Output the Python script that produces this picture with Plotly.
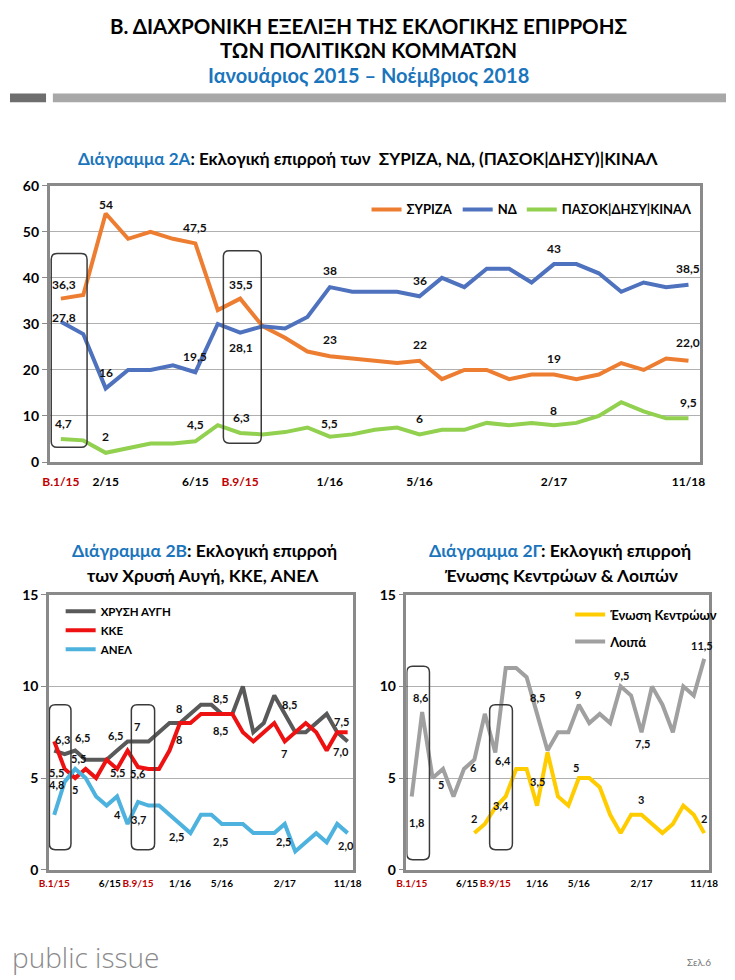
import plotly.graph_objects as go

W, H = 735, 980
FONT = "Lato, 'Noto Sans', sans-serif"
TITLE_BLUE = "#1B75BC"
TICK_RED = "#C00000"

# ---------------- data ----------------
N = 29
x_idx = list(range(N))

tick_pos_top = [0, 2, 6, 8, 12, 16, 22, 28]
tick_text_top = ["B.1/15", "2/15", "6/15", "B.9/15", "1/16", "5/16", "2/17", "11/18"]
tick_pos_bottom = [0, 5.3, 8, 12, 16, 22, 28]
tick_text_bottom = ["B.1/15", "6/15", "B.9/15", "1/16", "5/16", "2/17", "11/18"]
election_ticks = ["B.1/15", "B.9/15"]

syriza = [35.5, 36.3, 54, 48.5, 50, 48.5, 47.5, 33, 35.5, 29.5, 27, 24, 23, 22.5, 22,
          21.5, 22, 18, 20, 20, 18, 19, 19, 18, 19, 21.5, 20, 22.5, 22]
nd = [30.5, 27.8, 16, 20, 20, 21, 19.5, 30, 28.1, 29.5, 29, 31.5, 38, 37, 37,
      37, 36, 40, 38, 42, 42, 39, 43, 43, 41, 37, 39, 38, 38.5]
pasok = [5, 4.7, 2, 3, 4, 4, 4.5, 8, 6.3, 6, 6.5, 7.5, 5.5, 6, 7,
         7.5, 6, 7, 7, 8.5, 8, 8.5, 8, 8.5, 10, 13, 11, 9.5, 9.5]

xa = [6.5, 6.3, 6.5, 6, 6, 6, 6.5, 7, 7, 7, 7.5, 8, 8, 8.5, 9,
      9, 8.5, 8.5, 10, 7.5, 8, 9.5, 8.5, 7.5, 7.5, 8, 8.5, 7.5, 7]
kke = [7, 5.5, 5, 5.5, 5, 6, 5.5, 6.5, 5.6, 5.5, 5.5, 6.5, 8, 8, 8.5,
       8.5, 8.5, 8.5, 7.5, 7, 7.5, 8, 7, 7.5, 8, 7.5, 6.5, 7.5, 7.5]
anel = [3, 4.8, 5.5, 5, 4, 3.5, 4, 2.5, 3.7, 3.5, 3.5, 3, 2.5, 2, 3,
        3, 2.5, 2.5, 2.5, 2, 2, 2, 2.5, 1, 1.5, 2, 1.5, 2.5, 2]

ek = [1.8, None, None, None, None, None, 2, 2.5, 3.4, 4, 5.5, 5.5, 3.5, 6.4, 4,
      3.5, 5, 5, 4.5, 3, 2, 3, 3, 2.5, 2, 2.5, 3.5, 3, 2]
loipa = [4, 8.6, 5, 5.5, 4, 5.5, 6, 8.5, 6.4, 11, 11, 10.5, 8.5, 6.5, 7.5,
         7.5, 9, 8, 8.5, 8, 10, 9.5, 7.5, 10, 9, 7.5, 10, 9.5, 11.5]

# value labels: (series, index, text, dx px, dy px)
labels_top = [
    ("syriza", 0, "36,3", 3, 14), ("syriza", 2, "54", 0, 9), ("syriza", 6, "47,5", 0, 16),
    ("syriza", 8, "35,5", 1, 14), ("syriza", 12, "23", 0, 17), ("syriza", 16, "22", 0, 16),
    ("syriza", 22, "19", 0, 16), ("syriza", 28, "22,0", 0, 18),
    ("nd", 0, "27,8", 3, 4), ("nd", 2, "16", 0, 16), ("nd", 6, "19,5", 0, 16),
    ("nd", 8, "28,1", 1, -15), ("nd", 12, "38", 0, 17), ("nd", 16, "36", 0, 16),
    ("nd", 22, "43", 0, 16), ("nd", 28, "38,5", 0, 16),
    ("pasok", 0, "4,7", 3, 15), ("pasok", 2, "2", 0, 16), ("pasok", 6, "4,5", 0, 17),
    ("pasok", 8, "6,3", 1, 16), ("pasok", 12, "5,5", 0, 13), ("pasok", 16, "6", 0, 16),
    ("pasok", 22, "8", 0, 15), ("pasok", 28, "9,5", 0, 16),
]
labels_left = [
    ("xa", 1, "6,3", -2, 15), ("xa", 2, "6,5", 7, 13), ("kke", 1, "5,5", -8, -4),
    ("anel", 2, "5,5", 3, 10), ("anel", 1, "4,8", -8, -3), ("kke", 2, "5", 0, -11),
    ("xa", 6, "6,5", -2, 15), ("kke", 6, "5,5", 0, -4), ("anel", 6, "4", 0, -18),
    ("xa", 8, "7", -1, 15), ("kke", 8, "5,6", 0, -6), ("anel", 8, "3,7", 0, -18),
    ("xa", 12, "8", -1, 15), ("kke", 12, "8", -1, -16), ("anel", 12, "2,5", -3, -13),
    ("xa", 16, "8,5", -1, 15), ("kke", 16, "8,5", -1, -17), ("anel", 16, "2,5", -1, -18),
    ("xa", 22, "8,5", 5, 9), ("kke", 22, "7", -1, -12), ("anel", 22, "2,5", -1, -18),
    ("kke", 28, "7,5", -6, 11), ("xa", 28, "7,0", -7, -10), ("anel", 28, "2,0", -2, -12),
]
labels_right = [
    ("ek", 0, "1,8", 5, 14), ("loipa", 1, "8,6", -1, 15), ("loipa", 2, "5", 8, -6),
    ("loipa", 6, "6", -1, -8), ("ek", 6, "2", 0, 15), ("loipa", 8, "6,4", 8, -8),
    ("ek", 8, "3,4", 6, 2), ("loipa", 12, "8,5", 0, 16), ("ek", 12, "3,5", 0, 24),
    ("loipa", 16, "9", -1, 10), ("ek", 16, "5", -3, 11), ("loipa", 20, "9,5", 1, 11),
    ("loipa", 22, "7,5", 1, -11), ("ek", 22, "3", -1, 15), ("loipa", 28, "11,5", -2, 13),
    ("ek", 28, "2", 0, 15),
]

series = {"syriza": syriza, "nd": nd, "pasok": pasok, "xa": xa, "kke": kke,
          "anel": anel, "ek": ek, "loipa": loipa}

# ---------------- layout geometry (pixels) ----------------
def px_x(p):
    return p / W

def px_y(p):
    return 1 - p / H

top_box = dict(l=40.7, r=708, t=180, b=461)
bl_box = dict(l=40, r=352, t=596, b=876)
br_box = dict(l=407, r=718, t=596, b=876)

fig = go.Figure()

def add_line(y, name, color, xaxis, yaxis, legend, group=None):
    fig.add_trace(go.Scatter(
        x=x_idx, y=y, mode="lines", name="<b>%s</b>" % name,
        line=dict(color=color, width=4), xaxis=xaxis, yaxis=yaxis,
        legend=legend, legendgroup=group, connectgaps=False, hoverinfo="skip"))

add_line(syriza, "ΣΥΡΙΖΑ", "#ED7D31", "x", "y", "legend")
add_line(nd, "ΝΔ", "#4E72BE", "x", "y", "legend")
add_line(pasok, "ΠΑΣΟΚ|ΔΗΣΥ|ΚΙΝΑΛ", "#92D050", "x", "y", "legend")

add_line(xa, "ΧΡΥΣΗ ΑΥΓΗ", "#595959", "x2", "y2", "legend2")
add_line(kke, "ΚΚΕ", "#EE1111", "x2", "y2", "legend2")
add_line(anel, "ΑΝΕΛ", "#4DB2DE", "x2", "y2", "legend2")

add_line(ek, "Ένωση Κεντρώων", "#FFCC00", "x3", "y3", "legend3", "g1")
add_line(loipa, "Λοιπά", "#A0A0A0", "x3", "y3", "legend3", "g2")


def tick_text(labels):
    out = []
    for t in labels:
        if t in election_ticks:
            out.append("<span style='color:%s'>%s</span>" % (TICK_RED, t))
        else:
            out.append(t)
    return out


FRAME = "#8A8A8A"
GRID = "#B0B0B0"

def xaxis_cfg(box, pos, text, size, standoff):
    return dict(domain=[px_x(box["l"]), px_x(box["r"])], range=[-0.5, N - 0.5],
                tickmode="array", tickvals=pos, ticktext=text, tickangle=0,
                showgrid=False, zeroline=False, showline=True, mirror=True,
                linecolor=FRAME, linewidth=2.5, ticks="", ticklabelstandoff=standoff,
                tickfont=dict(family=FONT, size=size, color="#000", weight="bold"),
                fixedrange=True)

def yaxis_cfg(box, rng, dtick, anchor):
    return dict(domain=[px_y(box["b"]), px_y(box["t"])], range=rng, dtick=dtick,
                showgrid=True, gridcolor=GRID, gridwidth=1, zeroline=False,
                showline=True, mirror=True, linecolor=FRAME, linewidth=2.5,
                ticks="outside", ticklen=5, tickcolor=FRAME, anchor=anchor,
                tickfont=dict(family=FONT, size=14, color="#000", weight="bold"),
                fixedrange=True)

fig.update_layout(
    width=W, height=H, margin=dict(l=0, r=0, t=0, b=0),
    paper_bgcolor="white", plot_bgcolor="white",
    font=dict(family=FONT, color="#000"),
    xaxis=xaxis_cfg(top_box, tick_pos_top, tick_text(tick_text_top), 12, 7),
    yaxis=yaxis_cfg(top_box, [0, 60], 10, "x"),
    xaxis2=dict(xaxis_cfg(bl_box, tick_pos_bottom, tick_text(tick_text_bottom), 10, 2),
                anchor="y2"),
    yaxis2=yaxis_cfg(bl_box, [0, 15], 5, "x2"),
    xaxis3=dict(xaxis_cfg(br_box, tick_pos_bottom, tick_text(tick_text_bottom), 10, 2),
                anchor="y3"),
    yaxis3=yaxis_cfg(br_box, [0, 15], 5, "x3"),
    legend=dict(orientation="h", x=px_x(366), y=px_y(204), xanchor="left", yanchor="middle",
                bgcolor="rgba(0,0,0,0)", font=dict(family=FONT, size=13, color="#000"),
                itemwidth=30),
    legend2=dict(orientation="v", x=px_x(52), y=px_y(598), xanchor="left", yanchor="top",
                 bgcolor="rgba(0,0,0,0)", font=dict(family=FONT, size=11.5, color="#000"),
                 itemwidth=30, tracegroupgap=0),
    legend3=dict(orientation="v", x=px_x(575), y=px_y(601), xanchor="left", yanchor="top",
                 bgcolor="rgba(0,0,0,0)", font=dict(family=FONT, size=13, color="#000"),
                 itemwidth=30, tracegroupgap=7),
    showlegend=True,
)

# value labels
annotations = []
for labels, xr, yr, size in [(labels_top, "x", "y", 12), (labels_left, "x2", "y2", 11),
                             (labels_right, "x3", "y3", 11)]:
    for key, i, txt, dx, dy in labels:
        annotations.append(dict(x=x_idx[i], y=series[key][i], xref=xr, yref=yr,
                                text="<b>%s</b>" % txt, showarrow=False,
                                xshift=dx, yshift=dy,
                                font=dict(family=FONT, size=size, color="#111")))

# titles
def blue_title(head, rest):
    return "<b><span style='color:%s'>%s</span>%s</b>" % (TITLE_BLUE, head, rest)

texts = [
    (368, 17, "<b>Β. ΔΙΑΧΡΟΝΙΚΗ ΕΞΕΛΙΞΗ ΤΗΣ ΕΚΛΟΓΙΚΗΣ ΕΠΙΡΡΟΗΣ</b>", 20.5, "#000"),
    (368, 42, "<b>ΤΩΝ ΠΟΛΙΤΙΚΩΝ ΚΟΜΜΑΤΩΝ</b>", 20.5, "#000"),
    (368, 67, "<b>Ιανουάριος 2015 – Νοέμβριος 2018</b>", 20, TITLE_BLUE),
    (368, 152, blue_title("Διάγραμμα 2Α", ": Εκλογική επιρροή των  ΣΥΡΙΖΑ, ΝΔ, (ΠΑΣΟΚ|ΔΗΣΥ)|ΚΙΝΑΛ"), 17, "#000"),
    (200, 551, blue_title("Διάγραμμα 2Β", ": Εκλογική επιρροή"), 17.5, "#000"),
    (198, 577, "<b>των Χρυσή Αυγή, ΚΚΕ, ΑΝΕΛ</b>", 17.5, "#000"),
    (565, 551, blue_title("Διάγραμμα 2Γ", ": Εκλογική επιρροή"), 17.5, "#000"),
    (566, 577, "<b>Ένωσης Κεντρώων &amp; Λοιπών</b>", 17.5, "#000"),
]
for cx, cy, t, s, c in texts:
    annotations.append(dict(x=px_x(cx), y=px_y(cy), xref="paper", yref="paper",
                            text=t, showarrow=False, xanchor="center", yanchor="middle",
                            font=dict(family=FONT, size=s, color=c)))

annotations.append(dict(x=0, y=px_y(965), xref="paper", yref="paper",
                        text="public issue", showarrow=False, xanchor="left", yanchor="middle",
                        font=dict(family="'Open Sans', " + FONT, size=28, color="#8A8A8A", weight=300)))
annotations.append(dict(x=px_x(722), y=px_y(970), xref="paper", yref="paper",
                        text="Σελ.6", showarrow=False, xanchor="right", yanchor="middle",
                        font=dict(family=FONT, size=10, color="#777")))

fig.update_layout(annotations=annotations)

# decorative bars and highlight boxes
shapes = [
    dict(type="rect", xref="paper", yref="paper", x0=0, x1=px_x(37), y0=px_y(95), y1=px_y(86),
         fillcolor="#6E6E6E", line=dict(width=0)),
    dict(type="rect", xref="paper", yref="paper", x0=px_x(44), x1=1, y0=px_y(95), y1=px_y(86),
         fillcolor="#A8A8A8", line=dict(width=0)),
]

def rounded(x0, x1, y0, y1, rx, ry):
    return ("M %f,%f L %f,%f Q %f,%f %f,%f L %f,%f Q %f,%f %f,%f L %f,%f Q %f,%f %f,%f "
            "L %f,%f Q %f,%f %f,%f Z") % (
        x0 + rx, y0, x1 - rx, y0, x1, y0, x1, y0 + ry, x1, y1 - ry, x1, y1, x1 - rx, y1,
        x0 + rx, y1, x0, y1, x0, y1 - ry, x0, y0 + ry, x0, y0, x0 + rx, y0)

boxes = [
    ("x", "y", top_box, [0, 60], [(-0.43, 1.17, 3.2, 45.3), (7.25, 8.94, 4.1, 45.9)]),
    ("x2", "y2", bl_box, [0, 15], [(-0.46, 1.6, 1.1, 9.0), (7.36, 9.58, 1.1, 9.0)]),
    ("x3", "y3", br_box, [0, 15], [(-0.47, 1.7, 0.55, 11.1), (7.46, 9.64, 1.1, 9.0)]),
]
for xr, yr, box, yrng, rects in boxes:
    ppx = (box["r"] - box["l"]) / N
    ppy = (box["b"] - box["t"]) / (yrng[1] - yrng[0])
    rx, ry = 6 / ppx, 6 / ppy
    for x0, x1, y0, y1 in rects:
        shapes.append(dict(type="path", xref=xr, yref=yr, path=rounded(x0, x1, y0, y1, rx, ry),
                           line=dict(color="#3A3A3A", width=1.5), fillcolor="rgba(0,0,0,0)",
                           layer="above"))

fig.update_layout(shapes=shapes)

fig.write_html("out.html", config={"displayModeBar": False},
               post_script="document.body.style.margin='0px';document.body.style.overflow='hidden';")
